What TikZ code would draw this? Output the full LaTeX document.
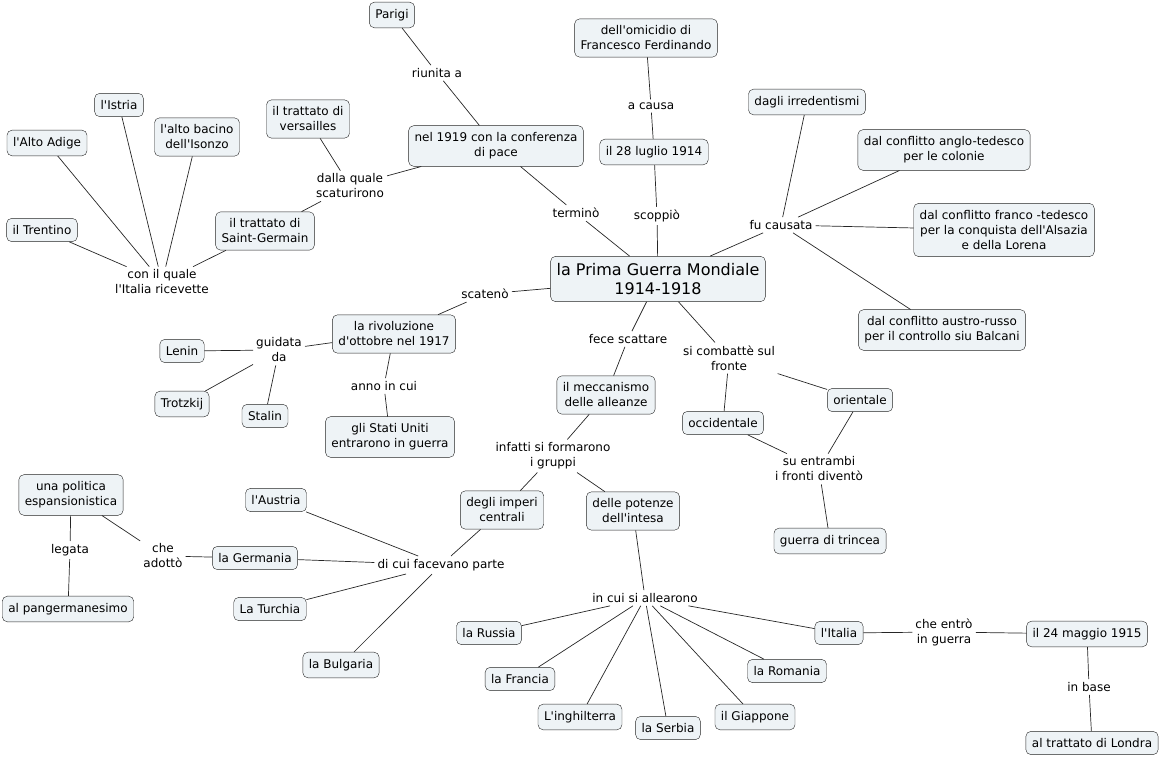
\documentclass[tikz,border=0pt]{standalone}
\usepackage{fontspec}
\setmainfont{DejaVu Sans}[Ligatures=TeXOff]
\definecolor{cfill}{HTML}{EEF3F6}
\begin{document}
\begin{tikzpicture}[x=1pt,y=-1pt,
    concept/.style={draw=black!85,fill=cfill,rounded corners=5pt,align=center,
      inner xsep=6pt,inner ysep=7pt,font=\fontsize{12}{15}\selectfont},
    phrase/.style={align=center,inner sep=3pt,font=\fontsize{12}{15}\selectfont},
    link/.style={draw=black!85,line width=0.7pt}]
    \useasboundingbox (0,0) rectangle (1165,757);
    \node[concept,font=\fontsize{16}{19}\selectfont] (pgm) at (658,279) {la Prima Guerra Mondiale\\1914-1918};
    \node[concept] (parigi) at (392,15) {Parigi};
    \node[concept] (omic) at (646,38) {dell'omicidio di\\Francesco Ferdinando};
    \node[concept] (istria) at (119,105) {l'Istria};
    \node[concept] (vers) at (308,119) {il trattato di\\versailles};
    \node[concept] (adige) at (47,143) {l'Alto Adige};
    \node[concept] (isonzo) at (197,137) {l'alto bacino\\dell'Isonzo};
    \node[concept] (nel) at (496,146) {nel 1919 con la conferenza\\di pace};
    \node[concept] (luglio) at (654,152) {il 28 luglio 1914};
    \node[concept] (irred) at (807,102) {dagli irredentismi};
    \node[concept] (anglo) at (944,150) {dal conflitto anglo-tedesco\\per le colonie};
    \node[concept] (trent) at (42,230) {il Trentino};
    \node[concept] (saint) at (265,231) {il trattato di\\Saint-Germain};
    \node[concept] (franco) at (1004,230) {dal conflitto franco -tedesco\\per la conquista dell'Alsazia\\e della Lorena};
    \node[concept] (austro) at (942,330) {dal conflitto austro-russo\\per il controllo siu Balcani};
    \node[concept] (rivol) at (394,334) {la rivoluzione\\d'ottobre nel 1917};
    \node[concept] (lenin) at (182,351) {Lenin};
    \node[concept] (trotz) at (182,404) {Trotzkij};
    \node[concept] (stalin) at (265,416) {Stalin};
    \node[concept] (usa) at (390,437) {gli Stati Uniti\\entrarono in guerra};
    \node[concept] (mecc) at (606,395) {il meccanismo\\delle alleanze};
    \node[concept] (occ) at (723,423) {occidentale};
    \node[concept] (ori) at (860,400) {orientale};
    \node[concept] (polit) at (71,495) {una politica\\espansionistica};
    \node[concept] (austria) at (276,500) {l'Austria};
    \node[concept] (imperi) at (502,510) {degli imperi\\centrali};
    \node[concept] (intesa) at (633,511) {delle potenze\\dell'intesa};
    \node[concept] (trincea) at (830,541) {guerra di trincea};
    \node[concept] (germ) at (255,558) {la Germania};
    \node[concept] (pang) at (68,609) {al pangermanesimo};
    \node[concept] (turch) at (270,609) {La Turchia};
    \node[concept] (russia) at (489,633) {la Russia};
    \node[concept] (italia) at (839,633) {l'Italia};
    \node[concept] (maggio) at (1087,634) {il 24 maggio 1915};
    \node[concept] (bulg) at (341,665) {la Bulgaria};
    \node[concept] (francia) at (520,679) {la Francia};
    \node[concept] (roman) at (787,671) {la Romania};
    \node[concept] (ingh) at (580,717) {L'inghilterra};
    \node[concept] (serbia) at (668,728) {la Serbia};
    \node[concept] (giapp) at (755,717) {il Giappone};
    \node[concept] (londra) at (1092,743) {al trattato di Londra};
    \node[phrase] (riun) at (437,73) {riunita a};
    \node[phrase] (acausa) at (651,106) {a causa};
    \node[phrase] (dalla) at (350,186) {dalla quale\\scaturirono};
    \node[phrase] (term) at (576,213) {terminò};
    \node[phrase] (scop) at (657,216) {scoppiò};
    \node[phrase] (fucaus) at (781,225) {fu causata};
    \node[phrase] (conil) at (162,282) {con il quale\\l'Italia ricevette};
    \node[phrase] (scat) at (485,294) {scatenò};
    \node[phrase] (guid) at (279,350) {guidata\\da};
    \node[phrase] (fece) at (628,339) {fece scattare};
    \node[phrase] (comb) at (729,358) {si combattè sul\\fronte};
    \node[phrase] (anno) at (384,386) {anno in cui};
    \node[phrase] (infatti) at (553,456) {infatti si formarono\\i gruppi};
    \node[phrase] (entr) at (819,469) {su entrambi\\i fronti diventò};
    \node[phrase] (adot) at (163,556) {che\\adottò};
    \node[phrase] (legata) at (70,550) {legata};
    \node[phrase] (dicui) at (441,565) {di cui facevano parte};
    \node[phrase] (alle) at (645,598) {in cui si allearono};
    \node[phrase] (entro) at (944,632) {che entrò\\in guerra};
    \node[phrase] (inbase) at (1089,687) {in base};
    \draw[link] (nel) -- (riun) (riun) -- (parigi);
    \draw[link] (pgm) -- (term) (term) -- (nel);
    \draw[link] (nel) -- (dalla) (dalla) -- (vers) (dalla) -- (saint);
    \draw[link] (saint) -- (conil) (conil) -- (trent) (conil) -- (adige) (conil) -- (istria) (conil) -- (isonzo);
    \draw[link] (pgm) -- (scop) (scop) -- (luglio) (luglio) -- (acausa) (acausa) -- (omic);
    \draw[link] (pgm) -- (fucaus) (fucaus) -- (irred) (fucaus) -- (anglo) (fucaus) -- (franco) (fucaus) -- (austro);
    \draw[link] (pgm) -- (scat) (scat) -- (rivol) (rivol) -- (guid) (guid) -- (lenin) (guid) -- (trotz) (guid) -- (stalin);
    \draw[link] (rivol) -- (anno) (anno) -- (usa);
    \draw[link] (pgm) -- (fece) (fece) -- (mecc) (mecc) -- (infatti) (infatti) -- (imperi) (infatti) -- (intesa);
    \draw[link] (imperi) -- (dicui) (dicui) -- (austria) (dicui) -- (germ) (dicui) -- (turch) (dicui) -- (bulg);
    \draw[link] (germ) -- (adot) (adot) -- (polit) (polit) -- (legata) (legata) -- (pang);
    \draw[link] (intesa) -- (alle) (alle) -- (russia) (alle) -- (francia) (alle) -- (ingh) (alle) -- (serbia)
      (alle) -- (giapp) (alle) -- (roman) (alle) -- (italia);
    \draw[link] (italia) -- (entro) (entro) -- (maggio) (maggio) -- (inbase) (inbase) -- (londra);
    \draw[link] (pgm) -- (comb) (comb) -- (occ) (comb) -- (ori) (occ) -- (entr) (ori) -- (entr) (entr) -- (trincea);
\end{tikzpicture}
\end{document}
